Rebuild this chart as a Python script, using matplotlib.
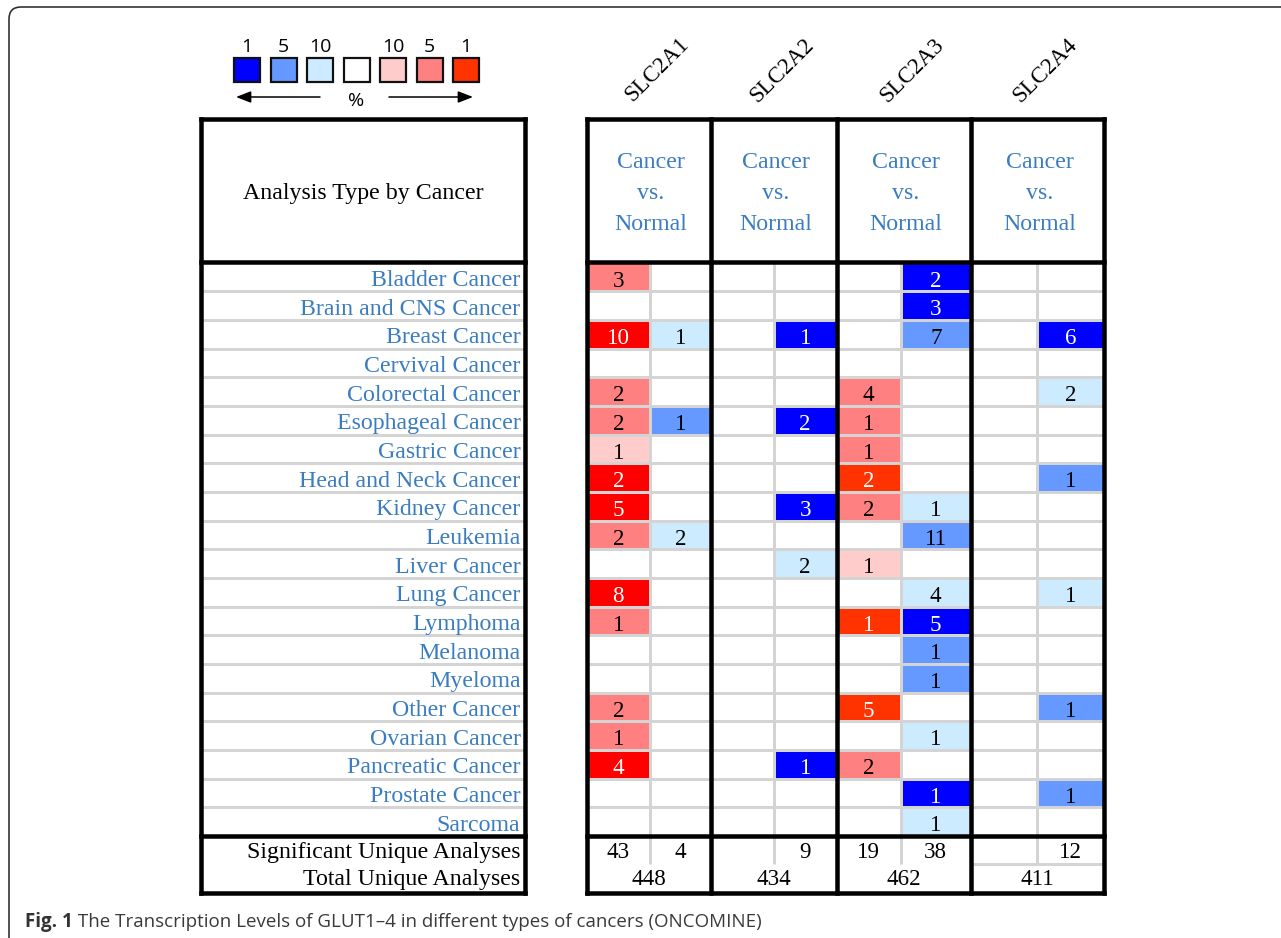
import matplotlib
matplotlib.use("Agg")
import matplotlib.pyplot as plt
from matplotlib.patches import Rectangle, PathPatch
from matplotlib.path import Path

# ---------------- data ----------------
cancers = ["Bladder Cancer", "Brain and CNS Cancer", "Breast Cancer", "Cervival Cancer",
           "Colorectal Cancer", "Esophageal Cancer", "Gastric Cancer", "Head and Neck Cancer",
           "Kidney Cancer", "Leukemia", "Liver Cancer", "Lung Cancer", "Lymphoma", "Melanoma",
           "Myeloma", "Other Cancer", "Ovarian Cancer", "Pancreatic Cancer", "Prostate Cancer",
           "Sarcoma"]
genes = ["SLC2A1", "SLC2A2", "SLC2A3", "SLC2A4"]
analysis_lines = ["Cancer", "vs.", "Normal"]

# number of significant analyses per cancer (over-expression / under-expression)
slc2a1_up = [3, None, 10, None, 2, 2, 1, 2, 5, 2, None, 8, 1, None, None, 2, 1, 4, None, None]
slc2a1_down = [None, None, 1, None, None, 1, None, None, None, 2, None, None, None, None, None, None, None, None, None, None]
slc2a2_up = [None] * 20
slc2a2_down = [None, None, 1, None, None, 2, None, None, 3, None, 2, None, None, None, None, None, None, 1, None, None]
slc2a3_up = [None, None, None, None, 4, 1, 1, 2, 2, None, 1, None, 1, None, None, 5, None, 2, None, None]
slc2a3_down = [2, 3, 7, None, None, None, None, None, 1, 11, None, 4, 5, 1, 1, None, 1, None, 1, 1]
slc2a4_up = [None] * 20
slc2a4_down = [None, None, 6, None, 2, None, None, 1, None, None, None, 1, None, None, None, 1, None, None, 1, None]

# best gene-rank tier of each cell
# R / O: top 1% (over), r: top 5%, p: top 10%; B: top 1% (under), b: top 5%, l: top 10%
slc2a1_up_tier = ["r", None, "R", None, "r", "r", "p", "R", "R", "r", None, "R", "r", None, None, "r", "r", "R", None, None]
slc2a1_down_tier = [None, None, "l", None, None, "b", None, None, None, "l", None, None, None, None, None, None, None, None, None, None]
slc2a2_up_tier = [None] * 20
slc2a2_down_tier = [None, None, "B", None, None, "B", None, None, "B", None, "l", None, None, None, None, None, None, "B", None, None]
slc2a3_up_tier = [None, None, None, None, "r", "r", "r", "O", "r", None, "p", None, "O", None, None, "O", None, "r", None, None]
slc2a3_down_tier = ["B", "B", "b", None, None, None, None, None, "l", "b", None, "l", "B", "b", "b", None, "l", None, "B", "l"]
slc2a4_up_tier = [None] * 20
slc2a4_down_tier = [None, None, "B", None, "l", None, None, "b", None, None, None, "l", None, None, None, "b", None, None, "b", None]

sig_up = [43, None, 19, None]
sig_down = [4, 9, 38, 12]
total_analyses = [448, 434, 462, 411]

legend_labels = ["1", "5", "10", "", "10", "5", "1"]

up_counts = [slc2a1_up, slc2a2_up, slc2a3_up, slc2a4_up]
down_counts = [slc2a1_down, slc2a2_down, slc2a3_down, slc2a4_down]
up_tiers = [slc2a1_up_tier, slc2a2_up_tier, slc2a3_up_tier, slc2a4_up_tier]
down_tiers = [slc2a1_down_tier, slc2a2_down_tier, slc2a3_down_tier, slc2a4_down_tier]

# ---------------- style ----------------
tier_colors = {"R": "#FF0000", "O": "#FF3300", "r": "#FF8080", "p": "#FFCCCC",
               "B": "#0000FF", "b": "#6699FF", "l": "#CCEBFF"}
dark_tiers = {"R", "O", "B"}
legend_colors = ["#0000FF", "#6699FF", "#CCEBFF", "#FFFFFF", "#FFCCCC", "#FF8080", "#FF3300"]
BLUE_TXT = "#3A7CC0"
GRID = "#D4D4D4"
SERIF = "Liberation Serif"
SANS = "Open Sans"

PX = 0.72  # points per pixel at 100 dpi
THICK = 4.5 * PX
THIN = 3.0 * PX
FS = 17.2
FS_NUM = 16.6

# table geometry (pixel space)
LEFT_X = (200.5, 524.5)
BLOCK_X = [587, 711, 837, 971, 1104]
SPLIT_X = [649.5, 773.5, 900.5, 1036.5]
HEAD_TOP = 119.5
ROW0 = 262.5
ROW_H = 28.67
N = len(cancers)
BODY_END = ROW0 + N * ROW_H
SIG_END = BODY_END + 28.5
TOT_END = SIG_END + 28.5
BASE_OFF = 23.6  # baseline offset of text inside a row

fig = plt.figure(figsize=(12.81, 9.38), dpi=100)
ax = fig.add_axes([0, 0, 1, 1])
ax.set_xlim(0, 1281)
ax.set_ylim(938, 0)
ax.axis("off")

# outer frame with rounded corner
r = 12
frame = Path([(9, 940), (9, 7 + r), (9, 7), (9 + r, 7), (1285, 7)],
             [Path.MOVETO, Path.LINETO, Path.CURVE3, Path.CURVE3, Path.LINETO])
ax.add_patch(PathPatch(frame, fill=False, lw=1.6 * PX, edgecolor="#2b2b2b"))

# ---------------- cells ----------------
def row_base(i):
    return ROW0 + i * ROW_H + BASE_OFF

for g in range(len(genes)):
    sub = [(BLOCK_X[g], SPLIT_X[g]), (SPLIT_X[g], BLOCK_X[g + 1])]
    mid = (BLOCK_X[g] + BLOCK_X[g + 1]) / 2
    for (x0, x1), counts, tiers in zip(sub, (up_counts[g], down_counts[g]), (up_tiers[g], down_tiers[g])):
        for i, (cnt, tier) in enumerate(zip(counts, tiers)):
            if cnt is None:
                continue
            y0 = ROW0 + i * ROW_H
            ax.add_patch(Rectangle((x0, y0), x1 - x0, ROW_H, facecolor=tier_colors[tier],
                                   edgecolor="none", zorder=1))
            ax.text((x0 + x1) / 2, row_base(i) + 0.5, str(cnt), ha="center", va="baseline",
                    fontsize=FS_NUM, family=SERIF,
                    color="white" if tier in dark_tiers else "black", zorder=3)
    # significant / total rows
    for (x0, x1), val in zip(sub, (sig_up[g], sig_down[g])):
        if val is not None:
            ax.text((x0 + x1) / 2, BODY_END + 22, str(val), ha="center",
                    va="baseline", fontsize=FS_NUM, family=SERIF, zorder=3)
    ax.text(mid, SIG_END + 21, str(total_analyses[g]), ha="center", va="baseline",
            fontsize=FS_NUM, family=SERIF, zorder=3)
    # analysis header
    for k, line in enumerate(analysis_lines):
        ax.text(mid + 2, 168.5 + k * 30.5, line, ha="center", va="baseline",
                fontsize=FS, family=SERIF, color=BLUE_TXT, zorder=3)
    # gene name
    ax.text(mid + 8, 70, genes[g], rotation=45, rotation_mode="anchor", ha="center",
            va="center", fontsize=16.5, family=SERIF, zorder=3)

# cancer labels
for i, name in enumerate(cancers):
    ax.text(LEFT_X[1] - 4, row_base(i), name, ha="right", va="baseline",
            fontsize=FS, family=SERIF, color=BLUE_TXT, zorder=3)
ax.text(LEFT_X[1] - 4, BODY_END + 22, "Significant Unique Analyses",
        ha="right", va="baseline", fontsize=FS, family=SERIF, zorder=3)
ax.text(LEFT_X[1] - 4, SIG_END + 21, "Total Unique Analyses",
        ha="right", va="baseline", fontsize=FS, family=SERIF, zorder=3)
ax.text(sum(LEFT_X) / 2 + 1, 199, "Analysis Type by Cancer", ha="center", va="baseline",
        fontsize=FS, family=SERIF, zorder=3)

# ---------------- grid lines ----------------
for i in range(1, N):
    y = ROW0 + i * ROW_H
    ax.plot(LEFT_X, [y, y], color=GRID, lw=THIN, solid_capstyle="butt", zorder=2)
    ax.plot([BLOCK_X[0], BLOCK_X[-1]], [y, y], color=GRID, lw=THIN, solid_capstyle="butt", zorder=2)
for x in SPLIT_X:
    ax.plot([x, x], [ROW0, SIG_END], color=GRID, lw=THIN, solid_capstyle="butt", zorder=2)
ax.plot([BLOCK_X[3], BLOCK_X[4]], [SIG_END, SIG_END], color=GRID, lw=THIN,
        solid_capstyle="butt", zorder=2)

# thick borders
kw = dict(color="black", lw=THICK, solid_capstyle="projecting", zorder=4)
for x in LEFT_X:
    ax.plot([x, x], [HEAD_TOP, TOT_END], **kw)
for y in (HEAD_TOP, ROW0, BODY_END, TOT_END):
    ax.plot(LEFT_X, [y, y], **kw)
for x in BLOCK_X:
    ax.plot([x, x], [HEAD_TOP, TOT_END], **kw)
for y in (HEAD_TOP, ROW0, BODY_END, TOT_END):
    ax.plot([BLOCK_X[0], BLOCK_X[-1]], [y, y], **kw)

# ---------------- colour legend ----------------
sq_w, sq_h, sq_step, sq_x0, sq_y0 = 26, 24, 36.5, 234, 58
for k, (c, lab) in enumerate(zip(legend_colors, legend_labels)):
    x = sq_x0 + k * sq_step
    ax.add_patch(Rectangle((x, sq_y0), sq_w, sq_h, facecolor=c, edgecolor="#111111",
                           lw=2.2 * PX, zorder=3))
    if lab:
        ax.text(x + sq_w / 2, sq_y0 - 11, lab, ha="center", va="center", fontsize=14,
                family=SANS, zorder=3)
arrow_kw = dict(arrowstyle="-|>,head_length=0.9,head_width=0.35", color="black", lw=1.1,
                shrinkA=0, shrinkB=0)
ax.annotate("", xy=(236, 97), xytext=(320, 97), arrowprops=arrow_kw)
ax.annotate("", xy=(473, 97), xytext=(389, 97), arrowprops=arrow_kw)
ax.text(356, 101, "%", ha="center", va="center", fontsize=14, family=SANS)

# ---------------- caption ----------------
fig_lbl = ax.text(25, 922, "Fig. 1", ha="left", va="center", fontsize=13.5, family=SANS,
                  fontweight="bold", color="#333333")
ax.annotate(" The Transcription Levels of GLUT1\u20134 in different types of cancers (ONCOMINE)",
            xy=(1, 0.5), xycoords=fig_lbl, ha="left", va="center", fontsize=13.5,
            family=SANS, color="#3a3a3a")

fig.savefig("out.png", dpi=100)
